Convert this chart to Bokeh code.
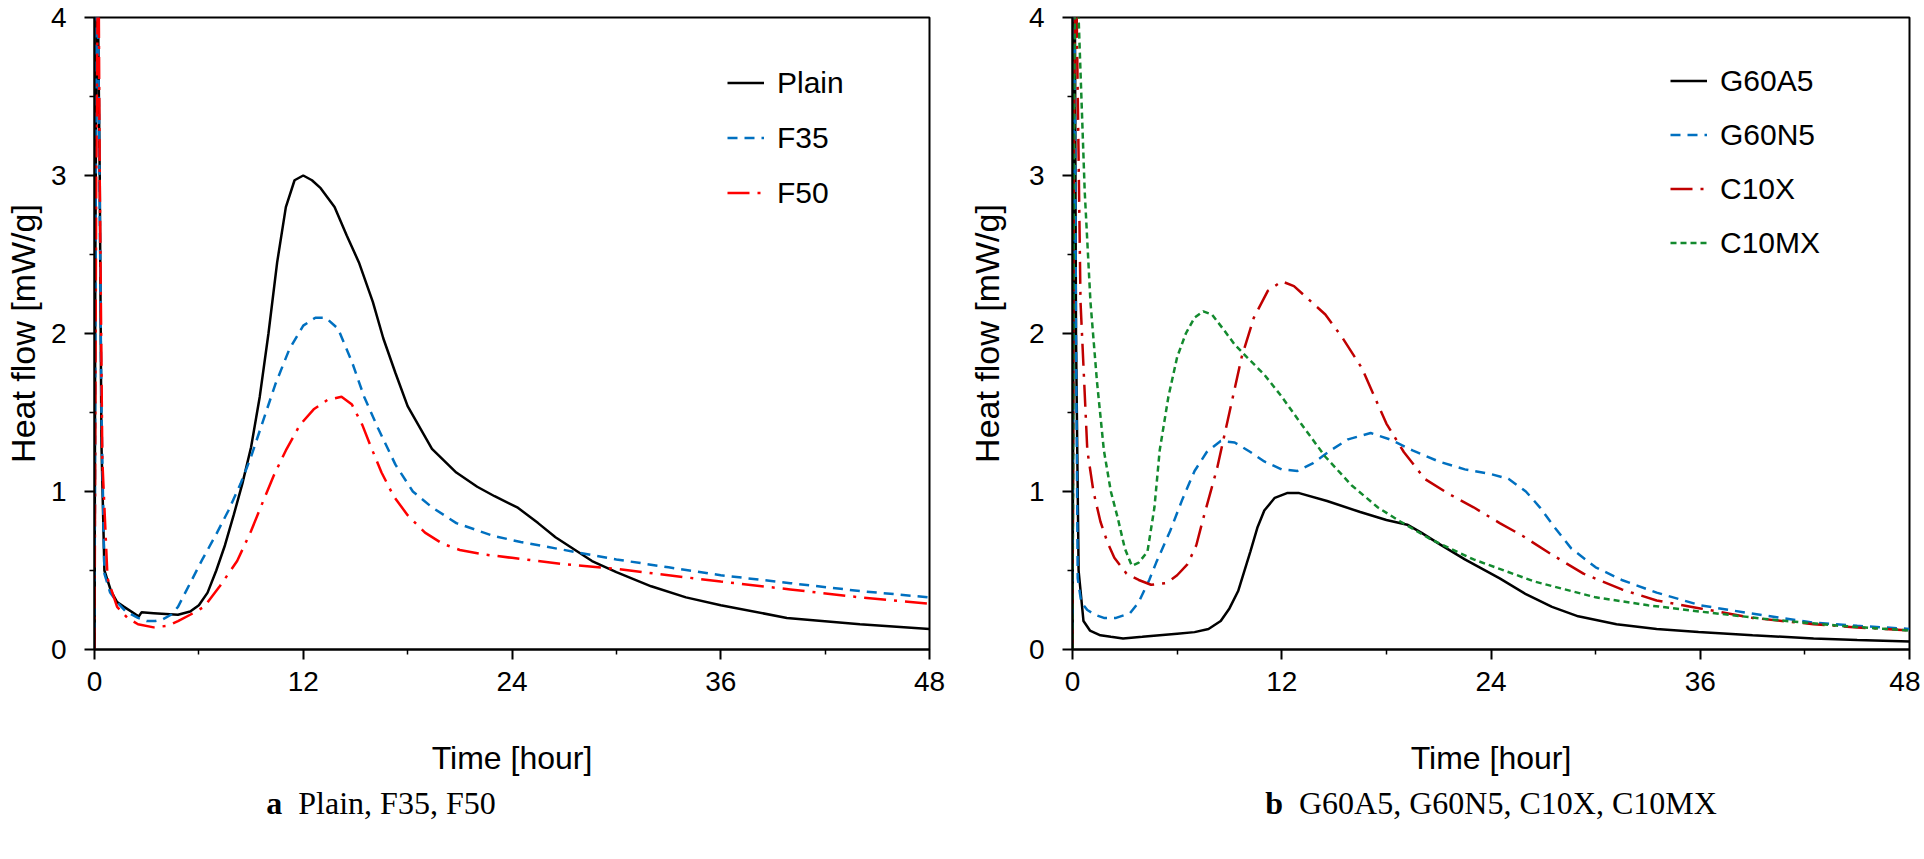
from bokeh.plotting import figure
from bokeh.layouts import row, column
from bokeh.models import Legend, LegendItem, Range1d, FixedTicker, Div
from bokeh.embed import file_html
from bokeh.resources import INLINE

# ---------------- data (panel a) ----------------
plain_t = [0, 0.05, 0.15, 0.3, 0.4, 0.57, 0.95, 1.3, 1.7, 2.4, 2.55, 2.7, 3.4, 4.8, 5.5, 6.0, 6.5,
           7.0, 7.5, 8.0, 8.5, 9.0, 9.5, 10.0, 10.5, 11.0, 11.5, 12.0, 12.5, 13.0, 13.8, 14.5, 15.2,
           16.0, 16.6, 17.3, 18.0, 19.4, 20.8, 22.0, 23.0, 24.3, 25.5, 26.5, 28.6, 30.0, 32.0, 34.0,
           36.0, 39.8, 44.0, 48.0]
plain_v = [0, 2.5, 4.6, 3.0, 1.3, 0.5, 0.37, 0.3, 0.27, 0.22, 0.21, 0.235, 0.23, 0.22, 0.24, 0.28, 0.36,
           0.5, 0.66, 0.85, 1.05, 1.28, 1.6, 2.0, 2.45, 2.8, 2.97, 3.0, 2.97, 2.92, 2.8, 2.62, 2.45,
           2.2, 1.97, 1.75, 1.54, 1.27, 1.12, 1.03, 0.97, 0.9, 0.8, 0.71, 0.56, 0.49, 0.4, 0.33,
           0.28, 0.2, 0.16, 0.13]

f35_t = [0, 0.05, 0.12, 0.25, 0.4, 0.57, 0.9, 1.3, 1.8, 2.5, 3.0, 3.5, 3.9, 4.4, 4.8, 5.5, 6.2,
         7.0, 7.7, 8.4, 9.0, 9.7, 10.4, 11.2, 12.0, 12.7, 13.3, 14.0, 14.8, 15.5, 16.3, 17.3, 18.3,
         19.4, 20.8, 22.9, 24.5, 26.5, 28.5, 30.0, 33.0, 36.0, 40.0, 44.0, 48.0]
f35_v = [0, 2.0, 4.6, 3.5, 1.5, 0.48, 0.36, 0.3, 0.24, 0.2, 0.18, 0.18, 0.19, 0.22, 0.27, 0.42, 0.57,
         0.73, 0.88, 1.05, 1.22, 1.45, 1.68, 1.9, 2.05, 2.1, 2.1, 2.03, 1.82, 1.6, 1.4, 1.17, 1.0,
         0.9, 0.8, 0.72, 0.68, 0.64, 0.6, 0.57, 0.52, 0.47, 0.42, 0.37, 0.33]

f50_t = [0, 0.1, 0.22, 0.3, 0.45, 0.75, 1.3, 1.9, 2.5, 3.4, 4.2, 4.8, 5.5, 6.3, 7.2, 8.2, 9.0,
         9.7, 10.3, 11.0, 11.8, 12.6, 13.4, 14.2, 14.8, 15.4, 15.9, 16.5, 17.2, 18.0, 19.0, 20.0,
         21.0, 22.5, 24.0, 27.0, 30.0, 33.0, 36.0, 40.0, 44.0, 48.0]
f50_v = [0, 3.0, 4.6, 3.0, 1.2, 0.45, 0.27, 0.2, 0.16, 0.14, 0.15, 0.18, 0.22, 0.27, 0.4, 0.56, 0.75,
         0.94, 1.1, 1.26, 1.42, 1.52, 1.58, 1.6, 1.55, 1.42, 1.28, 1.12, 0.97, 0.85, 0.74, 0.67,
         0.63, 0.6, 0.58, 0.54, 0.51, 0.47, 0.43, 0.38, 0.33, 0.29]

# ---------------- data (panel b) ----------------
g60a5_t = [0, 0.05, 0.12, 0.2, 0.35, 0.63, 1.0, 1.6, 2.2, 2.9, 4.0, 5.0, 6.0, 7.0, 7.8, 8.5, 9.0,
           9.5, 10.2, 10.6, 11.0, 11.6, 12.3, 13.0, 14.6, 16.5, 18.0, 19.2, 20.0, 21.0, 22.5, 24.5,
           26.0, 27.5, 29.0, 31.2, 33.5, 35.9, 39.0, 42.5, 45.0, 48.0]
g60a5_v = [0, 2.0, 4.6, 2.0, 0.5, 0.18, 0.12, 0.09, 0.08, 0.07, 0.08, 0.09, 0.1, 0.11, 0.13, 0.18, 0.26,
           0.37, 0.62, 0.77, 0.88, 0.96, 0.99, 0.99, 0.94, 0.87, 0.82, 0.79, 0.74, 0.67, 0.57, 0.45,
           0.35, 0.27, 0.21, 0.16, 0.13, 0.11, 0.09, 0.07, 0.06, 0.05]

g60n5_t = [0, 0.04, 0.1, 0.2, 0.3, 0.5, 0.85, 1.3, 1.8, 2.5, 3.3, 3.8, 4.4, 4.8, 5.6, 6.3, 7.0,
           7.7, 8.5, 9.3, 10.2, 11.0, 12.0, 12.9, 13.8, 14.8, 15.8, 17.1, 18.2, 19.5, 21.0, 22.5,
           24.0, 25.0, 26.0, 26.8, 27.6, 28.6, 30.0, 31.5, 33.5, 36.0, 38.8, 42.5, 45.0, 48.0]
g60n5_v = [0, 2.5, 4.6, 2.0, 0.45, 0.3, 0.25, 0.22, 0.2, 0.2, 0.23, 0.3, 0.44, 0.55, 0.75, 0.95, 1.13,
           1.25, 1.32, 1.31, 1.25, 1.19, 1.14, 1.13, 1.18, 1.26, 1.33, 1.37, 1.33, 1.26, 1.19, 1.14,
           1.11, 1.08, 1.0, 0.9, 0.78, 0.64, 0.52, 0.44, 0.36, 0.28, 0.23, 0.17, 0.15, 0.13]

c10x_t = [0, 0.08, 0.17, 0.46, 0.85, 1.2, 1.6, 2.0, 2.4, 3.1, 3.8, 4.5, 5.4, 6.0, 6.6, 7.1, 7.5,
          8.3, 9.0, 9.7, 10.4, 11.2, 12.0, 12.7, 13.5, 14.5, 15.5, 16.6, 18.0, 19.0, 20.2, 21.5,
          23.0, 24.5, 25.8, 27.5, 29.3, 31.5, 33.5, 36.0, 39.0, 42.5, 45.0, 48.0]
c10x_v = [0, 3.0, 4.6, 2.2, 1.26, 1.0, 0.81, 0.68, 0.58, 0.48, 0.44, 0.41, 0.42, 0.47, 0.54, 0.66, 0.83,
          1.15, 1.5, 1.85, 2.1, 2.27, 2.33, 2.3, 2.22, 2.12, 1.97, 1.78, 1.43, 1.25, 1.08, 0.99,
          0.9, 0.8, 0.72, 0.6, 0.48, 0.38, 0.31, 0.26, 0.2, 0.16, 0.14, 0.12]

c10mx_t = [0, 0.1, 0.2, 0.35, 0.7, 1.03, 1.4, 1.8, 2.2, 2.6, 3.0, 3.4, 3.8, 4.3, 4.7, 5.0, 5.5,
           6.0, 6.5, 7.0, 7.5, 8.0, 8.7, 9.3, 10.0, 11.0, 12.0, 13.1, 14.5, 16.0, 17.5, 18.8, 20.5,
           23.0, 26.5, 30.0, 33.0, 36.0, 40.0, 44.0, 48.0]
c10mx_v = [0, 3.5, 4.8, 4.0, 2.9, 2.2, 1.7, 1.26, 1.0, 0.83, 0.64, 0.53, 0.55, 0.62, 0.9, 1.26, 1.6,
           1.85, 2.0, 2.1, 2.14, 2.12, 2.02, 1.93, 1.85, 1.74, 1.6, 1.43, 1.22, 1.04, 0.9, 0.81, 0.7,
           0.57, 0.43, 0.33, 0.28, 0.24, 0.19, 0.15, 0.12]

x_ticks = [0, 12, 24, 36, 48]
x_minor = [6, 18, 30, 42]
y_ticks = [0, 1, 2, 3, 4]
y_minor = [0.5, 1.5, 2.5, 3.5]

legend_a = ["Plain", "F35", "F50"]
legend_b = ["G60A5", "G60N5", "C10X", "C10MX"]
caption_a = ("a", "Plain, F35, F50")
caption_b = ("b", "G60A5, G60N5, C10X, C10MX")

SANS = "Liberation Sans"
FIG_H = 799
FRAME_BOTTOM = 649
FRAME_TOP = 17


def make_fig(width, mbl, mbr, ylab_standoff):
    p = figure(width=width, height=FIG_H, x_range=Range1d(0, 48), y_range=Range1d(0, 4),
               output_backend="svg", toolbar_location=None,
               min_border_left=mbl, min_border_right=mbr, min_border_top=FRAME_TOP,
               min_border_bottom=FIG_H - FRAME_BOTTOM)
    p.xgrid.visible = False
    p.ygrid.visible = False
    p.outline_line_color = "black"
    p.outline_line_width = 2
    p.outline_line_alpha = 1
    p.background_fill_color = "white"
    p.border_fill_color = "white"
    p.xaxis.ticker = FixedTicker(ticks=x_ticks, minor_ticks=x_minor)
    p.yaxis.ticker = FixedTicker(ticks=y_ticks, minor_ticks=y_minor)
    for ax in (p.xaxis, p.yaxis):
        ax.axis_line_width = 2
        ax.axis_line_color = "black"
        ax.major_tick_line_width = 2
        ax.major_tick_line_color = "black"
        ax.minor_tick_line_width = 1.5
        ax.minor_tick_line_color = "black"
        ax.major_tick_out = 10
        ax.major_tick_in = 0
        ax.minor_tick_out = 5
        ax.minor_tick_in = 0
        ax.major_label_text_font = SANS
        ax.major_label_text_font_size = "28px"
        ax.major_label_text_color = "black"
        ax.axis_label_text_font = SANS
        ax.axis_label_text_font_style = "normal"
        ax.axis_label_text_color = "black"
    p.xaxis.axis_label_text_font_size = "32px"
    p.yaxis.axis_label_text_font_size = "34px"
    p.xaxis.axis_label = "Time [hour]"
    p.yaxis.axis_label = "Heat flow [mW/g]"
    p.xaxis.major_label_standoff = 12
    p.yaxis.major_label_standoff = 18
    p.xaxis.axis_label_standoff = 46
    p.yaxis.axis_label_standoff = ylab_standoff
    return p


def add_legend(p, labels, renderers, loc, spacing):
    leg = Legend(items=[LegendItem(label=lab, renderers=[r]) for lab, r in zip(labels, renderers)],
                 location=loc, glyph_width=37, glyph_height=35, label_height=35,
                 label_standoff=13, spacing=spacing, padding=0, margin=0,
                 border_line_color=None, background_fill_alpha=0,
                 label_text_font=SANS, label_text_font_size="30px", label_text_color="black")
    p.add_layout(leg)


def caption(cap, width, center):
    letter, text = cap
    html = ('<div style="margin-left:%dpx;width:600px;text-align:center;white-space:nowrap;'
            'font-family:\'Liberation Serif\';font-size:32px;line-height:30px;color:black">'
            '<b>%s</b>&nbsp; %s</div>') % (center - 300, letter, text)
    return Div(text=html, width=width, height=30, margin=(-11, 0, 0, 0))


BLUE = "#0070C0"

# panel a  (frame x: 90 .. 929)
pa = make_fig(960, 90, 31, 6)
ra1 = pa.line(plain_t, plain_v, line_color="black", line_width=2.5)
ra2 = pa.line(f35_t, f35_v, line_color=BLUE, line_width=2.5, line_dash="10 7")
ra3 = pa.line(f50_t, f50_v, line_color="#FF0000", line_width=2.5, line_dash="22 8 3 8")
add_legend(pa, legend_a, [ra1, ra2, ra3], (633, 439), 20)

# panel b  (frame x: 1072 .. 1909)
pb = make_fig(960, 112, 11, 20)
rb1 = pb.line(g60a5_t, g60a5_v, line_color="black", line_width=2.5)
rb2 = pb.line(g60n5_t, g60n5_v, line_color=BLUE, line_width=2.5, line_dash="10 7")
rb3 = pb.line(c10x_t, c10x_v, line_color="#C00000", line_width=2.5, line_dash="22 8 3 8")
rb4 = pb.line(c10mx_t, c10mx_v, line_color="#138A2E", line_width=2.5, line_dash="6 4")
add_legend(pb, legend_b, [rb1, rb2, rb3, rb4], (598, 389), 19)

cap_a = caption(caption_a, 960, 381)
cap_b = caption(caption_b, 960, 531)

layout = column(row(pa, pb, spacing=0), row(cap_a, cap_b, spacing=0), spacing=0)
open("out.html", "w").write(file_html(layout, INLINE))
